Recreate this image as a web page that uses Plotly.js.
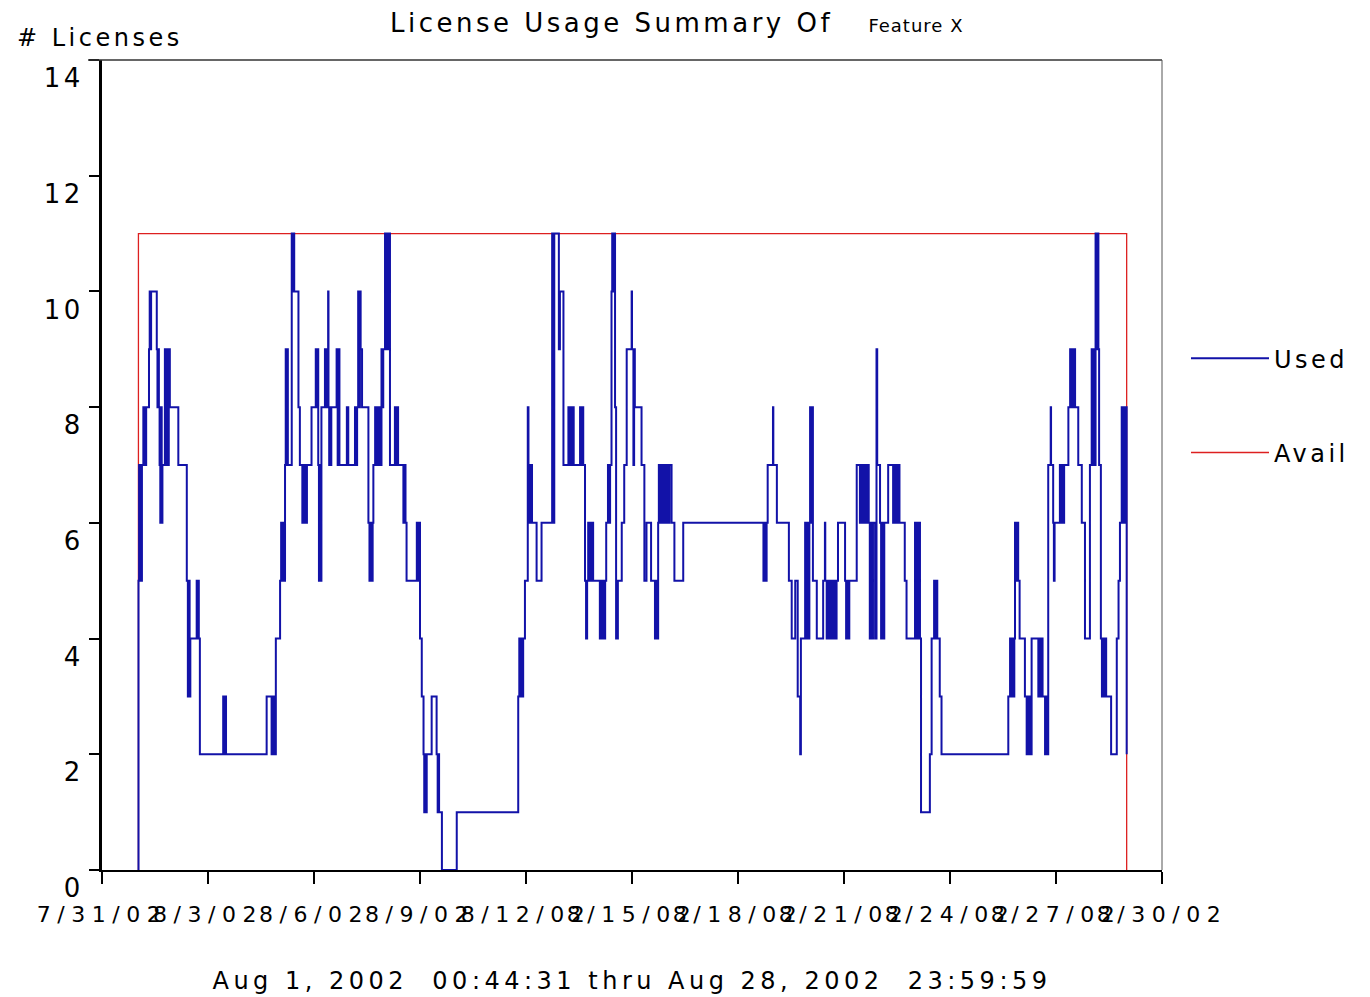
<!DOCTYPE html>
<html>
<head>
<meta charset="utf-8">
<script src="https://cdn.plot.ly/plotly-3.0.1.min.js"></script>
<style>
  html, body { margin: 0; padding: 0; background: #fff; }
  #chart { width: 1370px; height: 997px; }
  svg text { letter-spacing: 3.5px; }
  .xtick text { letter-spacing: 6.5px; }
  .g-xtitle text { letter-spacing: 4.5px; }
</style>
</head>
<body>
<div id="chart"></div>
<script>
// Time is given as fractional day of August 2002 (1.031 = Aug 1, 00:44)
const usedDay = [
 1.031,1.033,1.05,1.07,1.09,1.11,1.13,1.17,1.19,1.21,1.23,1.25,1.33,1.35,1.37,1.39,1.55,1.57,1.59,1.61,
 1.63,1.65,1.67,1.69,1.71,1.78,1.81,1.84,1.87,1.89,1.92,2.16,2.40,2.43,2.46,2.48,2.50,2.68,2.71,2.72,
 2.74,2.77,3.43,3.46,3.48,3.51,4.66,4.80,4.82,4.85,4.87,4.90,4.92,5.04,5.07,5.09,5.12,5.15,5.18,5.20,
 5.22,5.24,5.26,5.37,5.39,5.41,5.44,5.56,5.60,5.67,5.70,5.73,5.76,5.78,5.80,5.93,6.05,6.08,6.10,6.12,
 6.14,6.17,6.19,6.21,6.31,6.34,6.36,6.38,6.40,6.41,6.43,6.45,6.47,6.49,6.64,6.67,6.70,6.72,6.93,6.97,
 7.16,7.19,7.22,7.25,7.27,7.30,7.32,7.36,7.54,7.57,7.60,7.63,7.66,7.68,7.73,7.76,7.79,7.82,7.85,7.88,
 7.91,7.94,7.96,8.01,8.04,8.07,8.10,8.12,8.15,8.29,8.32,8.35,8.38,8.53,8.56,8.59,8.62,8.91,8.94,8.97,
 9.00,9.05,9.10,9.12,9.15,9.17,9.19,9.33,9.47,9.50,9.52,9.54,9.62,10.04,11.78,11.81,11.84,11.87,11.90,11.92,
 11.97,12.05,12.07,12.09,12.12,12.14,12.16,12.17,12.30,12.44,12.74,12.77,12.80,12.93,12.96,13.06,13.20,13.23,13.26,13.29,
 13.32,13.35,13.53,13.56,13.58,13.62,13.67,13.70,13.73,13.76,13.79,13.82,13.85,13.88,13.90,14.09,14.12,14.15,14.18,14.21,
 14.24,14.27,14.32,14.35,14.38,14.42,14.44,14.47,14.49,14.52,14.55,14.60,14.71,14.78,14.85,14.99,15.00,15.04,15.06,15.08,
 15.27,15.35,15.41,15.54,15.65,15.68,15.71,15.74,15.76,15.79,15.82,15.85,15.88,15.91,15.94,15.97,16.00,16.03,16.06,16.12,
 16.20,16.45,18.72,18.75,18.78,18.81,18.84,18.99,19.00,19.10,19.44,19.52,19.62,19.69,19.76,19.78,19.90,19.93,19.96,19.99,
 20.02,20.04,20.07,20.10,20.12,20.23,20.41,20.46,20.47,20.51,20.55,20.58,20.62,20.66,20.70,20.74,20.79,20.83,21.03,21.06,
 21.09,21.12,21.15,21.36,21.45,21.48,21.51,21.54,21.57,21.60,21.63,21.66,21.70,21.73,21.76,21.79,21.82,21.88,21.92,21.94,
 22.02,22.05,22.08,22.11,22.14,22.25,22.39,22.42,22.45,22.48,22.51,22.54,22.57,22.72,22.77,23.01,23.04,23.07,23.10,23.13,
 23.15,23.18,23.43,23.48,23.55,23.58,23.61,23.64,23.71,23.76,25.65,25.70,25.73,25.76,25.79,25.82,25.84,25.87,25.90,25.93,
 25.97,26.12,26.17,26.20,26.23,26.26,26.29,26.31,26.50,26.53,26.56,26.59,26.62,26.69,26.72,26.75,26.78,26.85,26.86,26.92,
 26.94,26.96,27.11,27.14,27.17,27.20,27.23,27.35,27.40,27.43,27.46,27.49,27.52,27.54,27.63,27.73,27.82,27.96,28.01,28.04,
 28.07,28.10,28.12,28.15,28.18,28.20,28.22,28.27,28.30,28.33,28.36,28.39,28.42,28.56,28.72,28.77,28.81,28.86,28.89,28.92,
 28.95,28.98,28.99999
];
const usedCount = [
 0,5,7,5,7,5,7,8,7,8,7,8,9,10,9,10,9,8,9,8,
 7,6,8,6,7,9,7,9,7,9,8,7,5,3,5,3,4,5,4,5,
 4,2,3,2,3,2,3,2,3,2,3,2,4,5,6,5,6,5,7,9,
 7,9,7,11,10,11,10,8,7,6,7,6,7,6,7,8,9,8,9,7,
 5,7,5,8,9,8,9,8,10,8,7,8,7,8,9,7,9,7,8,7,
 8,7,8,10,8,10,9,8,6,5,6,5,6,7,8,7,8,7,8,7,
 9,8,9,11,9,11,9,11,7,8,7,8,7,6,7,6,5,6,5,6,
 4,3,2,1,2,1,2,3,2,1,2,1,0,1,3,4,3,4,3,4,
 5,8,7,6,7,6,7,6,5,6,11,6,11,9,10,7,8,7,8,7,
 8,7,8,7,8,7,5,4,5,6,5,6,5,6,5,4,5,4,5,4,
 5,6,7,6,7,10,11,10,11,8,4,5,6,7,9,10,9,7,9,8,
 7,5,6,5,4,5,4,6,7,6,7,6,7,6,7,6,7,6,7,6,
 5,6,5,6,5,6,7,8,7,6,5,4,5,3,2,4,6,4,6,4,
 6,8,6,8,5,4,5,6,5,4,5,4,5,4,5,4,5,6,5,4,
 5,4,5,7,6,7,6,7,6,7,6,7,6,4,6,4,6,4,9,7,
 6,4,6,4,6,7,6,7,6,7,6,7,6,5,4,6,4,6,4,6,
 4,1,2,4,5,4,5,4,3,2,3,4,3,4,3,4,6,5,6,5,
 4,3,2,3,2,3,2,4,3,4,3,4,3,2,3,2,7,8,7,6,
 5,6,7,6,7,6,7,8,9,8,9,8,9,8,7,6,4,7,9,7,
 9,7,11,9,11,9,7,4,3,4,3,4,3,2,4,5,6,8,6,8,
 6,8,2
];
const availDay = [1.031, 1.031, 28.99999, 28.99999];
const availCount = [0, 11, 11, 0];

const xTitle = 'Aug 1, 2002\u00a0\u00a000:44:31 thru Aug 28, 2002\u00a0\u00a023:59:59';
const chartTitle = 'License Usage Summary Of\u00a0\u00a0 <span style="font-size:18px;letter-spacing:1px">Feature X</span>';
const yTitle = '# Licenses';

function toDate(d) {
  const ms = Date.UTC(2002, 7, 0) + d * 86400000;
  return new Date(ms).toISOString().replace('T', ' ').slice(0, 19);
}

const FONT = 'DejaVu Sans, sans-serif';

const traces = [
  {
    x: availDay.map(toDate), y: availCount, name: 'Avail', mode: 'lines', type: 'scatter',
    line: {color: '#dd2020', width: 1.3}, legendgroup: 'a', legendrank: 2
  },
  {
    x: usedDay.map(toDate), y: usedCount, name: 'Used', mode: 'lines', type: 'scatter',
    line: {color: '#1212a8', width: 2, shape: 'hv'}, legendgroup: 'u', legendrank: 1
  }
];

const layout = {
  width: 1370, height: 997,
  paper_bgcolor: '#ffffff', plot_bgcolor: '#ffffff',
  margin: {l: 102, r: 208, t: 60, b: 127},
  font: {family: FONT, color: '#000', size: 22},
  title: {
    text: chartTitle, font: {family: FONT, size: 26, color: '#000'},
    xref: 'container', yref: 'container', x: 390/1370, xanchor: 'left', y: 1 - 23/997, yanchor: 'middle'
  },
  xaxis: {
    type: 'date', range: [toDate(0), toDate(30)],
    tick0: toDate(0), dtick: 3 * 86400000, tickformat: '%-m/%-d/%y', tickangle: 0,
    ticks: 'outside', ticklen: 12, tickwidth: 2, tickcolor: '#000',
    showline: true, linecolor: '#000', linewidth: 2,
    showgrid: false, zeroline: false,
    tickfont: {family: FONT, size: 22, color: '#000'},
    ticklabelstandoff: 12,
    title: {text: xTitle, font: {family: FONT, size: 24, color: '#000'}, standoff: 46}
  },
  yaxis: {
    range: [0, 14], dtick: 2, tick0: 0,
    ticks: 'outside', ticklen: 10, tickwidth: 2, tickcolor: '#000',
    showline: true, linecolor: '#000', linewidth: 3,
    showgrid: false, zeroline: false,
    tickfont: {family: FONT, size: 26, color: '#000'},
    ticklabelshift: 18, ticklabelstandoff: 0
  },
  showlegend: true,
  legend: {
    x: (1186 - 102) / 1060, xanchor: 'left', y: 0.659, yanchor: 'top',
    font: {family: FONT, size: 24, color: '#000'},
    itemwidth: 78, traceorder: 'grouped', tracegroupgap: 60,
    bgcolor: 'rgba(0,0,0,0)', borderwidth: 0
  },
  shapes: [
    {type: 'line', xref: 'paper', yref: 'paper', x0: -14/1060, x1: 1, y0: 1, y1: 1, line: {color: '#333', width: 1.5}},
    {type: 'line', xref: 'paper', yref: 'paper', x0: 1, x1: 1, y0: 0, y1: 1, line: {color: '#555', width: 1}}
  ],
  annotations: [
    {text: yTitle, xref: 'paper', yref: 'paper', x: (15 - 102) / 1060, xanchor: 'left',
     y: (870 - 38) / 810, yanchor: 'middle', showarrow: false,
     font: {family: FONT, size: 24, color: '#000'}}
  ]
};

Plotly.newPlot('chart', traces, layout, {displayModeBar: false, staticPlot: true});
</script>
</body>
</html>
